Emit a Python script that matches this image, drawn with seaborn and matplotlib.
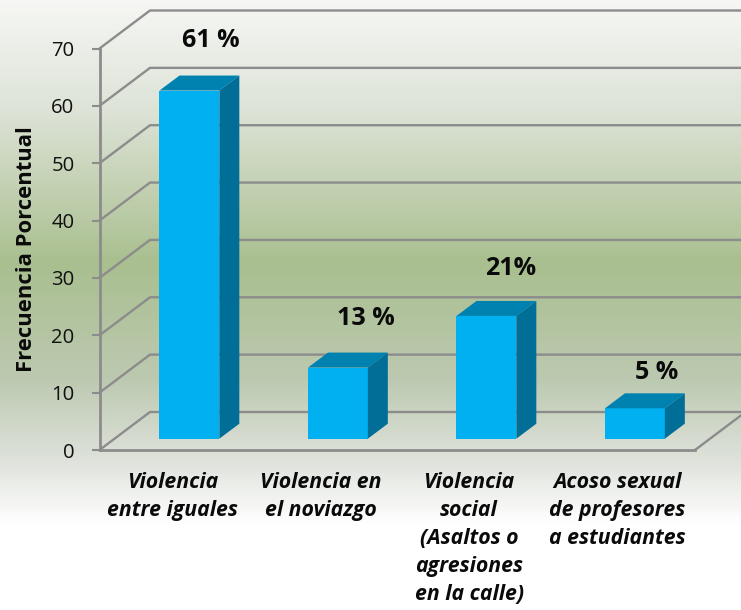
import numpy as np
import matplotlib
matplotlib.use("Agg")
import matplotlib.pyplot as plt
from matplotlib.colors import LinearSegmentedColormap
from matplotlib.patches import Polygon
from matplotlib.transforms import IdentityTransform
import pandas as pd
import seaborn as sns

categories = ["Violencia\nentre iguales", "Violencia en\nel noviazgo",
              "Violencia\nsocial\n(Asaltos o\nagresiones\nen la calle)",
              "Acoso sexual\nde profesores\na estudiantes"]
bar_heights = [60.7, 12.4, 21.4, 5.3]
value_labels = ["61 %", "13 %", "21%", "5 %"]
y_ticks = [0, 10, 20, 30, 40, 50, 60, 70]
y_title = "Frecuencia Porcentual"

label_offsets = [(21, 50), (28, 49), (24, 47), (22, 36)]

W, H = 741, 610
GREY = "#8c8c8c"
sns.set_theme(style="white")
plt.rcParams["font.family"] = ["Open Sans", "DejaVu Sans"]
fig = plt.figure(figsize=(W / 100, H / 100), dpi=100)


def px_axes(l, t, r, b, **kw):
    return fig.add_axes([l / W, 1 - b / H, (r - l) / W, (b - t) / H], **kw)


# background gradient
bg = px_axes(0, 0, W, H)
stops = [(0, "#f6f7f4"), (0.18, "#dde3d7"), (0.43, "#a9bf8f"), (0.62, "#bcc9b0"),
         (0.76, "#dfe3dc"), (0.86, "#ffffff"), (1, "#ffffff")]
cmap = LinearSegmentedColormap.from_list("bg", stops)
bg.imshow(np.linspace(0, 1, 610)[:, None], cmap=cmap, aspect="auto", vmin=0, vmax=1)
bg.axis("off")

# front plane: value axis and category axis
ax = px_axes(99.5, 48.5, 695, 450)
ax.patch.set_alpha(0)
ax.set_xlim(-0.492, 3.523)
ax.set_ylim(0, 70)
ax.set_yticks(y_ticks)
ax.set_xticks(range(len(categories)))
ax.set_xticklabels(categories, fontsize=15.3, fontweight="bold", fontstyle="italic",
                   color="#0a0a0a", linespacing=1.44)
ax.tick_params(axis="x", length=0, pad=15.5)
ax.tick_params(axis="y", length=6, width=1.5, color=GREY, labelsize=14.6,
               labelcolor="#111111", pad=12, left=True)
ax.set_ylabel(y_title, fontsize=15.8, fontweight="bold", color="#0a0a0a", labelpad=10)
sns.despine(ax=ax)
for s in ("left", "bottom"):
    ax.spines[s].set_color(GREY)
    ax.spines[s].set_linewidth(2.0)

# back wall and side wall lines, in display space derived from the value scale
fig.canvas.draw()
DX, DY = 50.5, 38
to_disp = ax.transData.transform
for v in y_ticks:
    x0, y0 = ax.transAxes.transform((0, 0))[0], to_disp((0, v))[1]
    xs = [x0, x0 + DX, W + 2]
    ys = [y0, y0 + DY, y0 + DY]
    ax.add_line(plt.Line2D(xs, ys, transform=IdentityTransform(), color=GREY, lw=1.7,
                           clip_on=False, solid_joinstyle="miter"))
xr, yr = ax.transAxes.transform((1, 0))
ax.add_line(plt.Line2D([xr, xr + DX], [yr, yr + DY], transform=IdentityTransform(),
                       color=GREY, lw=1.7, clip_on=False))

# bar plane
ax2 = px_axes(115.15, 37.2, 709.15, 438.7)
ax2.patch.set_alpha(0)
df = pd.DataFrame({"cat": categories, "val": bar_heights})
sns.barplot(data=df, x="cat", y="val", ax=ax2, color="#00B0F0", saturation=1, width=0.403,
            linewidth=0, edgecolor="none")
ax2.set_ylim(0, 70)
ax2.axis("off")
fig.canvas.draw()
BX, BY = 20, 15
for p in list(ax2.patches):
    x, w, h = p.get_x(), p.get_width(), p.get_height()
    (xa, ya), (xb, yb) = ax2.transData.transform([(x, 0), (x + w, h)])
    top = [(xa, yb), (xb, yb), (xb + BX, yb + BY), (xa + BX, yb + BY)]
    side = [(xb, ya), (xb + BX, ya + BY), (xb + BX, yb + BY), (xb, yb)]
    ax2.add_patch(Polygon(top, closed=True, transform=IdentityTransform(), fc="#0082B1",
                          ec="none", clip_on=False))
    ax2.add_patch(Polygon(side, closed=True, transform=IdentityTransform(), fc="#006E96",
                          ec="none", clip_on=False))

for i, (v, s, off) in enumerate(zip(bar_heights, value_labels, label_offsets)):
    ax2.annotate(s, (i, v), xytext=(off[0] * 0.72, off[1] * 0.72), textcoords="offset points",
                 ha="center", va="center", fontsize=18, fontweight="bold",
                 color="#0a0a0a", annotation_clip=False)

fig.savefig("out.png", dpi=100)
